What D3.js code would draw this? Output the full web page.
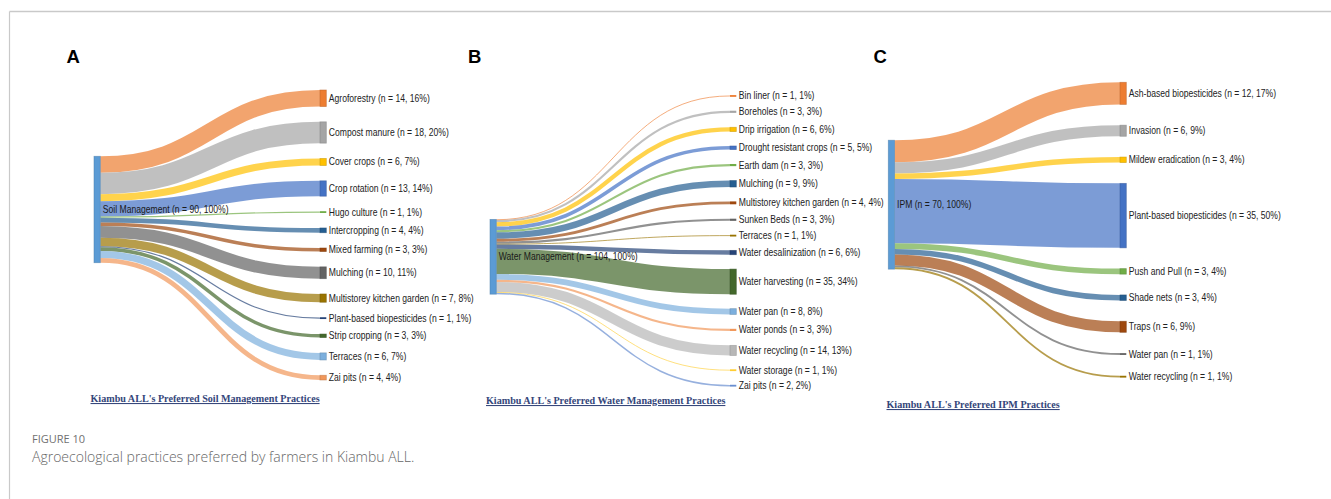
<!DOCTYPE html>
<html>
<head>
<meta charset="utf-8">
<script src="https://cdn.jsdelivr.net/npm/d3@7"></script>
<style>
  html, body { margin: 0; padding: 0; background: #ffffff; }
  svg { display: block; }
</style>
</head>
<body>
<svg id="fig" width="1331" height="499"></svg>
<script>
// ---- Soil management practices (panel A) ----
const soilPractices = ["Agroforestry", "Compost manure", "Cover crops", "Crop rotation", "Hugo culture",
  "Intercropping", "Mixed farming", "Mulching", "Multistorey kitchen garden", "Plant-based biopesticides",
  "Strip cropping", "Terraces", "Zai pits"];
const soilCounts = [14, 18, 6, 13, 1, 4, 3, 10, 7, 1, 3, 6, 4];
const soilShares = [16, 20, 7, 14, 1, 4, 3, 11, 8, 1, 3, 7, 4];

// ---- Water management practices (panel B) ----
const waterPractices = ["Bin liner", "Boreholes", "Drip irrigation", "Drought resistant crops", "Earth dam",
  "Mulching", "Multistorey kitchen garden", "Sunken Beds", "Terraces", "Water desalinization",
  "Water harvesting", "Water pan", "Water ponds", "Water recycling", "Water storage", "Zai pits"];
const waterCounts = [1, 3, 6, 5, 3, 9, 4, 3, 1, 6, 35, 8, 3, 14, 1, 2];
const waterShares = [1, 3, 6, 5, 3, 9, 4, 3, 1, 6, 34, 8, 3, 13, 1, 2];

// ---- Integrated pest management practices (panel C) ----
const ipmPractices = ["Ash-based biopesticides", "Invasion", "Mildew eradication", "Plant-based biopesticides",
  "Push and Pull", "Shade nets", "Traps", "Water pan", "Water recycling"];
const ipmCounts = [12, 6, 3, 35, 3, 3, 6, 1, 1];
const ipmShares = [17, 9, 4, 50, 4, 4, 9, 1, 1];

// ---- Captions ----
const figureLabel = "FIGURE 10";
const figureCaption = "Agroecological practices preferred by farmers in Kiambu ALL.";

// Office-style categorical palette: first colour for the source node, the rest for targets
const palette = ["#5B9BD5", "#ED7D31", "#A5A5A5", "#FFC000", "#4472C4", "#70AD47", "#255E91", "#9E480E",
  "#636363", "#997300", "#264478", "#43682B", "#7CAFDD", "#F1975A", "#B7B7B7", "#FFCD33", "#698ED0"];

const panels = [
  { letter: "A", letterX: 66.5, source: "Soil Management", names: soilPractices, counts: soilCounts, shares: soilShares,
    title: "Kiambu ALL's Preferred Soil Management Practices",
    sx: 94, tx: 320, y0: 90, y1: 380, pad: 15.3, titleX: 90.5, titleY: 402 },
  { letter: "B", letterX: 468, source: "Water Management", names: waterPractices, counts: waterCounts, shares: waterShares,
    title: "Kiambu ALL's Preferred Water Management Practices",
    sx: 490, tx: 730, y0: 95.6, y1: 386.4, pad: 14.4, titleX: 486, titleY: 404 },
  { letter: "C", letterX: 873.5, source: "IPM", names: ipmPractices, counts: ipmCounts, shares: ipmShares,
    title: "Kiambu ALL's Preferred IPM Practices",
    sx: 888.3, tx: 1120, y0: 82.3, y1: 377.6, pad: 20.8, titleX: 886.5, titleY: 408 }
];

const NODE_W = 6.3;
const LABEL_FONT = "'Liberation Sans', Arial, sans-serif";
const LABEL_SCALE = 0.86;

const svg = d3.select("#fig");

// Frame lines of the figure box
svg.append("line").attr("x1", 9.5).attr("x2", 1331).attr("y1", 11.5).attr("y2", 11.5)
  .attr("stroke", "#c9c9c9").attr("stroke-width", 1.5);
svg.append("line").attr("x1", 9.5).attr("x2", 9.5).attr("y1", 11.5).attr("y2", 499)
  .attr("stroke", "#c9c9c9").attr("stroke-width", 1.2);

function label(g, x, y, text, size, fill) {
  g.append("text")
    .attr("transform", `translate(${x},${y}) scale(${LABEL_SCALE},1)`)
    .attr("dy", "0.35em")
    .attr("font-family", LABEL_FONT)
    .attr("font-size", size)
    .attr("fill", fill)
    .text(text);
}

function drawPanel(p) {
  const g = svg.append("g");
  const total = d3.sum(p.counts);
  const n = p.counts.length;
  // vertical scale shared by nodes and links: count -> pixels
  const ky = (p.y1 - p.y0 - (n - 1) * p.pad) / total;
  const h = d3.scaleLinear().domain([0, total]).range([0, total * ky]);

  const nodes = p.names.map((name, i) => ({
    name, value: p.counts[i], share: p.shares[i], color: palette[(i + 1) % palette.length]
  }));
  let y = p.y0;
  nodes.forEach(d => { d.y0 = y; d.y1 = y + h(d.value); y = d.y1 + p.pad; });

  // source node sits at the value-weighted centre of its targets
  const centre = d3.sum(nodes, d => d.value * (d.y0 + d.y1) / 2) / total;
  const src = { y0: centre - h(total) / 2, y1: centre + h(total) / 2 };
  let sy = src.y0;
  nodes.forEach(d => {
    d.w = h(d.value);
    d.sy = sy + d.w / 2;
    sy += d.w;
    d.ty = (d.y0 + d.y1) / 2;
  });

  const link = d3.linkHorizontal()
    .source(d => [p.sx + NODE_W, d.sy])
    .target(d => [p.tx, d.ty]);

  g.append("g").selectAll("path").data(nodes).join("path")
    .attr("d", link)
    .attr("fill", "none")
    .attr("stroke", d => d.color)
    .attr("stroke-opacity", 0.7)
    .attr("stroke-width", d => Math.max(0.9, d.w));

  // target nodes
  g.append("g").selectAll("rect").data(nodes).join("rect")
    .attr("x", p.tx)
    .attr("y", d => Math.min(d.y0, d.ty - 0.9))
    .attr("width", NODE_W)
    .attr("height", d => Math.max(1.8, d.y1 - d.y0))
    .attr("fill", d => d.color)
    .attr("stroke", d => d3.color(d.color).darker(0.7))
    .attr("stroke-opacity", 0.6)
    .attr("stroke-width", d => d.w > 3 ? 0.8 : 0);

  // source node
  g.append("rect")
    .attr("x", p.sx).attr("y", src.y0)
    .attr("width", NODE_W).attr("height", src.y1 - src.y0)
    .attr("fill", palette[0])
    .attr("stroke", d3.color(palette[0]).darker(0.6))
    .attr("stroke-opacity", 0.6)
    .attr("stroke-width", 0.8);

  // target labels
  nodes.forEach(d => label(g, p.tx + NODE_W + 2.5, d.ty, `${d.name} (n = ${d.value}, ${d.share}%)`, 10, "#222"));
  // source label
  label(g, p.sx + NODE_W + 2.5, centre, `${p.source} (n = ${total}, 100%)`, 10, "#1a1a1a");

  // panel letter
  svg.append("text")
    .attr("x", p.letterX).attr("y", 62.5)
    .attr("font-family", LABEL_FONT).attr("font-weight", "bold")
    .attr("font-size", 18.5).attr("fill", "#000")
    .text(p.letter);

  // panel title
  svg.append("text")
    .attr("transform", `translate(${p.titleX},${p.titleY}) scale(0.965,1)`)
    .attr("font-family", "'Liberation Serif', 'Times New Roman', serif")
    .attr("font-weight", "bold")
    .attr("font-size", 10.5)
    .attr("fill", "#34467a")
    .attr("text-decoration", "underline")
    .text(p.title);
}

panels.forEach(drawPanel);

// Figure caption
svg.append("text")
  .attr("x", 32).attr("y", 443)
  .attr("font-family", "'Open Sans', 'Noto Sans', sans-serif")
  .attr("font-size", 11).attr("fill", "#707070")
  .text(figureLabel);
svg.append("text")
  .attr("x", 32).attr("y", 461.5)
  .attr("font-family", "'Open Sans', 'Noto Sans', sans-serif")
  .attr("font-weight", 300)
  .attr("font-size", 14).attr("fill", "#666")
  .text(figureCaption);
</script>
</body>
</html>
